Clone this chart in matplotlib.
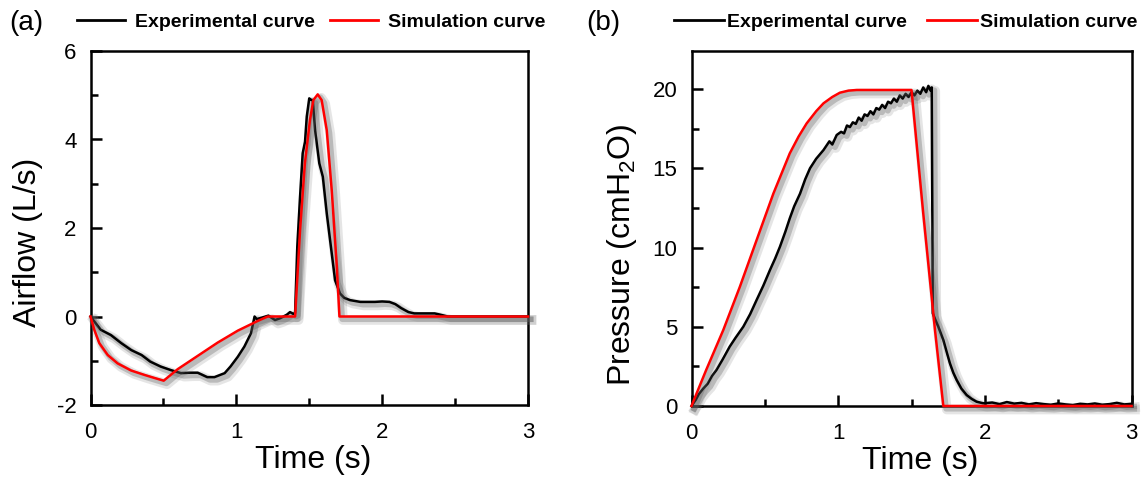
import matplotlib
matplotlib.use("Agg")
import matplotlib.pyplot as plt
import matplotlib.patheffects as pe
from matplotlib.lines import Line2D
from matplotlib.ticker import MultipleLocator

# %%
# (a) airflow
a_exp_t = [0.00, 0.035, 0.07, 0.14, 0.21, 0.28, 0.35, 0.41, 0.48, 0.55, 0.62, 0.68, 0.735, 0.80, 0.85,
           0.92, 0.96, 1.01, 1.055, 1.10, 1.11, 1.125, 1.14, 1.18, 1.22, 1.265, 1.30, 1.346, 1.368, 1.39,
           1.403, 1.418, 1.437, 1.455, 1.471, 1.483, 1.50, 1.51, 1.524, 1.54, 1.569, 1.593, 1.62, 1.654,
           1.677, 1.711, 1.74, 1.78, 1.85, 1.95, 2.00, 2.05, 2.09, 2.13, 2.18, 2.22, 2.30, 2.36, 2.40,
           2.45, 3.00]
a_exp_v = [0.00, -0.15, -0.30, -0.42, -0.60, -0.76, -0.87, -1.02, -1.13, -1.21, -1.28, -1.27, -1.27, -1.37,
           -1.37, -1.28, -1.13, -0.91, -0.68, -0.38, -0.23, 0.00, -0.06, -0.02, 0.02, -0.08, -0.04, 0.04,
           0.10, 0.06, 0.08, 1.58, 2.71, 3.69, 3.95, 4.52, 4.93, 4.90, 4.89, 4.21, 3.46, 3.16, 2.33, 1.43,
           0.82, 0.52, 0.42, 0.37, 0.33, 0.33, 0.34, 0.33, 0.28, 0.19, 0.10, 0.07, 0.07, 0.07, 0.04,
           0.00, 0.00]

a_sim_t = [0.00, 0.026, 0.06, 0.118, 0.186, 0.278, 0.37, 0.44, 0.502, 0.598, 0.735, 0.872, 1.01, 1.147,
           1.215, 1.403, 1.437, 1.47, 1.505, 1.528, 1.558, 1.585, 1.62, 1.654, 1.689, 1.707, 3.00]
a_sim_v = [0.00, -0.30, -0.60, -0.87, -1.06, -1.22, -1.32, -1.39, -1.45, -1.19, -0.89, -0.59, -0.32, -0.10,
           0.00, 0.00, 1.95, 3.46, 4.44, 4.89, 5.02, 4.89, 4.21, 2.86, 1.13, 0.00, 0.00]

# (b) pressure
b_exp_t = [0.00, 0.03, 0.05, 0.08, 0.11, 0.14, 0.17, 0.21, 0.26, 0.30, 0.353, 0.40, 0.444, 0.49, 0.535,
           0.57, 0.603, 0.64, 0.67, 0.70, 0.74, 0.775, 0.808, 0.85, 0.90, 0.94, 0.96, 0.99, 1.02, 1.04,
           1.06, 1.08, 1.10, 1.12, 1.14, 1.16, 1.18, 1.20, 1.22, 1.24, 1.26, 1.28, 1.30, 1.32, 1.34,
           1.36, 1.38, 1.40, 1.42, 1.44, 1.46, 1.48, 1.50, 1.52, 1.54, 1.56, 1.58, 1.60, 1.615, 1.63,
           1.638, 1.645, 1.66, 1.683, 1.717, 1.74, 1.762, 1.785, 1.808, 1.84, 1.876, 1.91, 1.944, 1.99,
           2.05, 2.10, 2.15, 2.20, 2.25, 2.30, 2.35, 2.40, 2.45, 2.50, 2.55, 2.60, 2.65, 2.70, 2.75,
           2.80, 2.85, 2.90, 2.95, 3.00]
b_exp_v = [0.0, 0.4, 0.75, 1.1, 1.4, 1.9, 2.27, 2.9, 3.74, 4.3, 5.0, 5.8, 6.69, 7.6, 8.58,
           9.3, 10.05, 11.0, 11.84, 12.6, 13.4, 14.3, 15.0, 15.6, 16.15, 16.7, 16.5, 17.1, 17.3, 17.2,
           17.7, 17.6, 17.9, 17.8, 18.2, 18.0, 18.4, 18.3, 18.6, 18.4, 18.8, 18.7, 19.0, 18.8, 19.2,
           19.1, 19.4, 19.2, 19.6, 19.4, 19.7, 19.5, 19.8, 19.6, 19.9, 19.7, 20.1, 19.8, 20.2, 19.9,
           20.1, 5.85, 5.5, 5.0, 4.16, 3.4, 2.69, 2.1, 1.64, 1.1, 0.69, 0.45, 0.27, 0.17,
           0.22, 0.12, 0.25, 0.15, 0.20, 0.10, 0.18, 0.12, 0.08, 0.16, 0.10, 0.06, 0.14, 0.10, 0.16,
           0.08, 0.12, 0.20, 0.10, 0.14]

b_sim_t = [0.00, 0.035, 0.10, 0.217, 0.33, 0.444, 0.558, 0.67, 0.73, 0.785, 0.85, 0.90, 0.96, 1.012,
           1.07, 1.126, 1.50, 1.58, 1.66, 1.717, 3.00]
b_sim_v = [0.0, 0.8, 2.27, 4.8, 7.53, 10.47, 13.4, 15.94, 17.0, 17.83, 18.6, 19.1, 19.5, 19.77,
           19.9, 19.94, 19.94, 12.16, 4.8, 0.0, 0.0]

legend_labels = ["Experimental curve", "Simulation curve"]

# %%
plt.rcParams['font.family'] = ['Liberation Sans', 'DejaVu Sans']
plt.rcParams['mathtext.fontset'] = 'custom'
plt.rcParams['mathtext.rm'] = 'Liberation Sans'
plt.rcParams['mathtext.it'] = 'Liberation Sans:italic'
plt.rcParams['axes.unicode_minus'] = False

W, H = 1146, 486
fig = plt.figure(figsize=(W / 100, H / 100), dpi=100)

# axes boxes in pixels: left, right, top, bottom
ax_a = fig.add_axes([90.5 / W, (H - 405) / H, 437.5 / W, 354 / H])
ax_b = fig.add_axes([691.5 / W, (H - 406) / H, 440 / W, 355 / H])

shadow = [pe.SimpleLineShadow(offset=(2.5, -2.5), shadow_color='0.45', alpha=0.18, linewidth=7),
          pe.SimpleLineShadow(offset=(2.0, -2.0), shadow_color='0.35', alpha=0.30, linewidth=4),
          pe.Normal()]


def style_axes(ax):
    for s in ax.spines.values():
        s.set_linewidth(1.8)
    ax.tick_params(which='both', direction='in', top=False, right=False, width=1.8, labelsize=16)
    ax.tick_params(which='major', length=8)
    ax.tick_params(which='minor', length=5)
    ax.tick_params(axis='x', which='major', pad=12)
    ax.tick_params(axis='y', which='major', pad=10)
    ax.set_xlim(0, 3)
    ax.xaxis.set_major_locator(MultipleLocator(1))
    ax.xaxis.set_minor_locator(MultipleLocator(0.5))


# (a)
ax_a.plot(a_exp_t, a_exp_v, color='black', lw=1.8, zorder=3, clip_on=False, path_effects=shadow)
ax_a.plot(a_sim_t, a_sim_v, color='#ff0000', lw=1.8, zorder=3, clip_on=False, path_effects=shadow)
style_axes(ax_a)
ax_a.set_ylim(-2, 6)
ax_a.yaxis.set_major_locator(MultipleLocator(2))
ax_a.yaxis.set_minor_locator(MultipleLocator(1))
ax_a.set_xlabel("Time (s)", fontsize=23)
ax_a.set_ylabel("Airflow (L/s)", fontsize=23)
ax_a.xaxis.set_label_coords(0.508, -0.112)
ax_a.yaxis.set_label_coords(-0.108, 0.46)

# (b)
ax_b.plot(b_exp_t, b_exp_v, color='black', lw=1.8, zorder=3, clip_on=False, path_effects=shadow)
ax_b.plot(b_sim_t, b_sim_v, color='#ff0000', lw=1.8, zorder=3, clip_on=False, path_effects=shadow)
style_axes(ax_b)
ax_b.set_ylim(0, 22.4)
ax_b.yaxis.set_major_locator(MultipleLocator(5))
ax_b.yaxis.set_minor_locator(MultipleLocator(2.5))
ax_b.set_xlabel("Time (s)", fontsize=23)
ax_b.set_ylabel("Pressure (cmH$_2$O)", fontsize=23)
ax_b.xaxis.set_label_coords(0.52, -0.112)
ax_b.yaxis.set_label_coords(-0.12, 0.425)

# panel letters
fig.text(9 / W, 1 - 23 / H, "(a)", fontsize=20, ha='left', va='center')
fig.text(586 / W, 1 - 23 / H, "(b)", fontsize=20, ha='left', va='center')

# legends above each panel
handles = [Line2D([], [], color='black', lw=2), Line2D([], [], color='#ff0000', lw=2)]
fig.legend(handles, legend_labels, loc='center left', bbox_to_anchor=(77 / W, 1 - 22 / H), ncol=2,
           frameon=False, prop={'weight': 'bold', 'size': 14}, borderpad=0, borderaxespad=0,
           handlelength=2.47, handletextpad=0.51, columnspacing=0.77)
fig.legend(handles, legend_labels, loc='center left', bbox_to_anchor=(674 / W, 1 - 22 / H), ncol=2,
           frameon=False, prop={'weight': 'bold', 'size': 14}, borderpad=0, borderaxespad=0,
           handlelength=2.57, handletextpad=0.15, columnspacing=1.05)

fig.savefig("out.png", dpi=100)
